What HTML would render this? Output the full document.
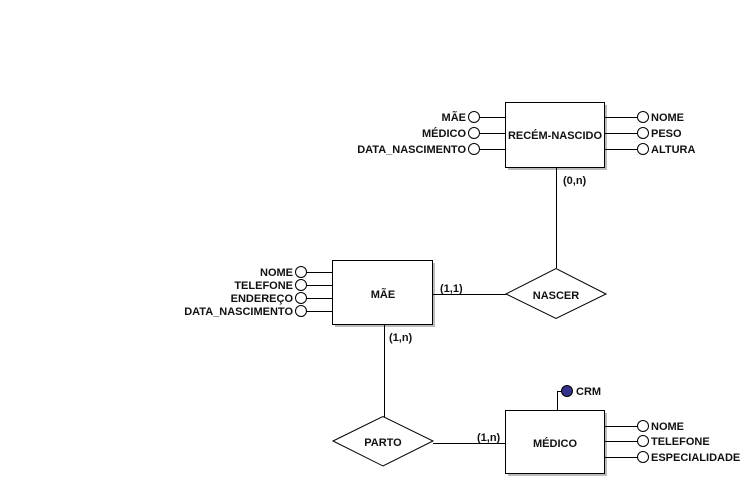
<!DOCTYPE html>
<html><head><meta charset="utf-8"><style>body{margin:0;background:#fff}svg{display:block}text{font-family:"Liberation Sans",sans-serif;font-weight:bold;font-size:11px;fill:#111}</style></head><body>
<svg width="751" height="482" xmlns="http://www.w3.org/2000/svg">
<g stroke="#000" stroke-width="1" fill="none">
<rect x="508" y="105" width="99" height="65" fill="#bbb" stroke="none"/>
<rect x="335" y="263" width="100" height="64" fill="#bbb" stroke="none"/>
<rect x="508" y="413" width="99" height="63" fill="#bbb" stroke="none"/>
<rect x="505.5" y="102.5" width="99" height="65" fill="#fff"/>
<rect x="332.5" y="260.5" width="100" height="64" fill="#fff"/>
<rect x="505.5" y="410.5" width="99" height="63" fill="#fff"/>
<polygon points="506,294 556,268.5 606,294 556,318.5" fill="#fff"/>
<polygon points="333,441 383,416.5 433,441 383,466" fill="#fff"/>
<line x1="556.5" y1="168" x2="556.5" y2="268"/>
<line x1="433" y1="294.5" x2="506" y2="294.5"/>
<line x1="384.5" y1="325" x2="384.5" y2="417"/>
<line x1="433" y1="443.5" x2="506" y2="443.5"/>
<line x1="480" y1="117.5" x2="506" y2="117.5"/><line x1="480" y1="133.5" x2="506" y2="133.5"/><line x1="480" y1="149.5" x2="506" y2="149.5"/>
<circle cx="474" cy="117" r="5.5" fill="#fff"/><circle cx="474" cy="133" r="5.5" fill="#fff"/><circle cx="474" cy="149" r="5.5" fill="#fff"/>
<line x1="605" y1="117.5" x2="638" y2="117.5"/><line x1="605" y1="133.5" x2="638" y2="133.5"/><line x1="605" y1="149.5" x2="638" y2="149.5"/>
<circle cx="643" cy="117" r="5.5" fill="#fff"/><circle cx="643" cy="133" r="5.5" fill="#fff"/><circle cx="643" cy="149" r="5.5" fill="#fff"/>
<line x1="306" y1="272.5" x2="333" y2="272.5"/><line x1="306" y1="285.5" x2="333" y2="285.5"/><line x1="306" y1="298.5" x2="333" y2="298.5"/><line x1="306" y1="311.5" x2="333" y2="311.5"/>
<circle cx="301" cy="272" r="5.5" fill="#fff"/><circle cx="301" cy="285" r="5.5" fill="#fff"/><circle cx="301" cy="298" r="5.5" fill="#fff"/><circle cx="301" cy="311" r="5.5" fill="#fff"/>
<line x1="605" y1="426.5" x2="638" y2="426.5"/><line x1="605" y1="441.5" x2="638" y2="441.5"/><line x1="605" y1="457.5" x2="638" y2="457.5"/>
<circle cx="643" cy="426" r="5.5" fill="#fff"/><circle cx="643" cy="441" r="5.5" fill="#fff"/><circle cx="643" cy="457" r="5.5" fill="#fff"/>
<polyline points="557.5,411 557.5,391.5 562,391.5"/>
<circle cx="567" cy="391" r="5.5" fill="#33338a"/>
</g>
<text x="555" y="139" text-anchor="middle">RECÉM-NASCIDO</text>
<text x="383" y="298" text-anchor="middle">MÃE</text>
<text x="556" y="299" text-anchor="middle">NASCER</text>
<text x="383" y="446" text-anchor="middle">PARTO</text>
<text x="555" y="447" text-anchor="middle">MÉDICO</text>
<g text-anchor="end">
<text x="466" y="121">MÃE</text><text x="466" y="137">MÉDICO</text><text x="466" y="153">DATA_NASCIMENTO</text>
<text x="293" y="276">NOME</text><text x="293" y="289">TELEFONE</text><text x="293" y="302">ENDEREÇO</text><text x="293" y="315">DATA_NASCIMENTO</text>
</g>
<text x="651" y="121">NOME</text><text x="651" y="137">PESO</text><text x="651" y="153">ALTURA</text>
<text x="651" y="430">NOME</text><text x="651" y="445">TELEFONE</text><text x="651" y="461">ESPECIALIDADE</text>
<text x="576" y="395">CRM</text>
<text x="563" y="184">(0,n)</text>
<text x="440" y="292">(1,1)</text>
<text x="389" y="341">(1,n)</text>
<text x="477" y="441">(1,n)</text>
</svg>
</body></html>
